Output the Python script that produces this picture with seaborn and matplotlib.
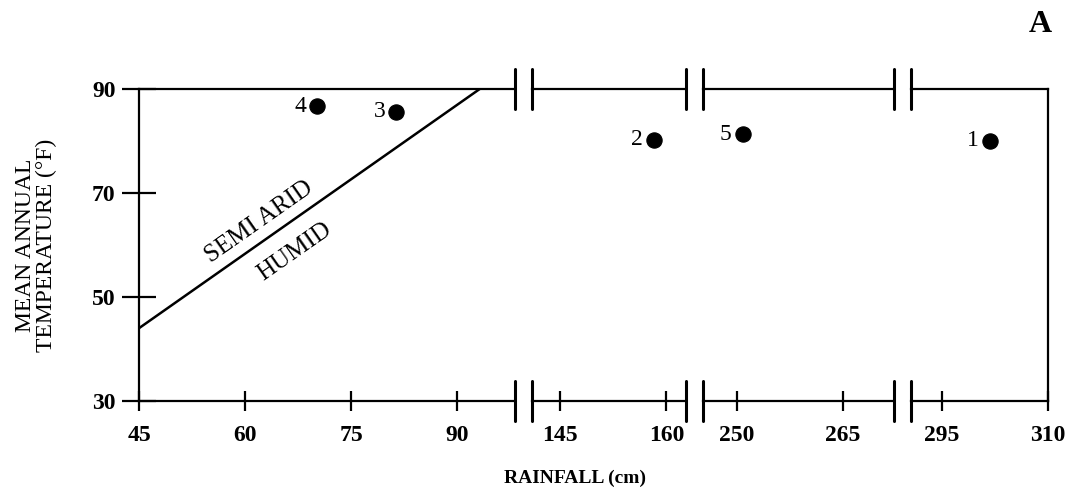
import matplotlib
matplotlib.use("Agg")
import matplotlib.pyplot as plt
import seaborn as sns
import pandas as pd

# sites: rainfall (cm) against mean annual temperature (F)
site_labels = ["1", "2", "3", "4", "5"]
rainfall = [301.8, 158.3, 81.4, 70.2, 250.8]
temperature = [80.0, 80.2, 85.6, 86.7, 81.3]

# semi arid / humid boundary line
boundary_rain = [45, 93.2]
boundary_temp = [44, 90]

# broken x axis: visible rainfall ranges and their ticks
segments = [(45, 98.2), (141, 162.8), (245.2, 272.2), (290.6, 310)]
segment_ticks = [[45, 60, 75, 90], [145, 160], [250, 265], [295, 310]]
y_ticks = [30, 50, 70, 90]

sites = pd.DataFrame({"label": site_labels, "rainfall": rainfall,
                      "temperature": temperature})

sns.set_theme(style="ticks")
plt.rcParams["font.family"] = ["Liberation Serif", "DejaVu Serif"]
plt.rcParams["text.color"] = "black"

fig, axes = plt.subplots(
    1, 4, sharey=True, figsize=(10.9, 4.95), dpi=100,
    gridspec_kw=dict(width_ratios=[hi - lo for lo, hi in segments], wspace=0.079))
fig.subplots_adjust(left=139 / 1090, right=1048 / 1090,
                    bottom=1 - 401 / 495, top=1 - 89 / 495)

for i, ax in enumerate(axes):
    lo, hi = segments[i]
    sub = sites[(sites.rainfall >= lo) & (sites.rainfall <= hi)]
    sns.scatterplot(data=sub, x="rainfall", y="temperature", ax=ax,
                    color="black", edgecolor="black", s=120, legend=False)
    for _, row in sub.iterrows():
        ax.annotate(row.label, (row.rainfall, row.temperature),
                    xytext=(-8, 0), textcoords="offset points",
                    ha="right", va="center", fontsize=17, color="black")

    ax.set_xlim(lo, hi)
    ax.set_ylim(30, 90)
    ax.set_xticks(segment_ticks[i])
    ax.set_xlabel("")
    ax.set_ylabel("")
    for side in ["top", "bottom", "left", "right"]:
        ax.spines[side].set_color("black")
        ax.spines[side].set_linewidth(1.6)
    ax.spines["left"].set_visible(i == 0)
    ax.spines["right"].set_visible(i == len(axes) - 1)
    ax.tick_params(axis="x", direction="inout", length=14, width=1.6,
                   color="black", labelsize=17, pad=10, labelcolor="black")
    plt.setp(ax.get_xticklabels(), fontweight="bold")
    if i == 0:
        ax.set_yticks(y_ticks)
        ax.tick_params(axis="y", direction="inout", length=24, width=1.6,
                       color="black", labelsize=17, pad=5, labelcolor="black")
        plt.setp(ax.get_yticklabels(), fontweight="bold")
    else:
        ax.tick_params(axis="y", left=False)

    # break marks
    if i > 0:
        for y0 in (0, 1):
            ax.plot([0, 0], [y0 - 0.064, y0 + 0.064], transform=ax.transAxes,
                    color="black", lw=2.2, clip_on=False)
    if i < len(axes) - 1:
        for y0 in (0, 1):
            ax.plot([1, 1], [y0 - 0.064, y0 + 0.064], transform=ax.transAxes,
                    color="black", lw=2.2, clip_on=False)

sns.lineplot(x=boundary_rain, y=boundary_temp, ax=axes[0], color="black", lw=1.8)
axes[0].set_xlabel("")
axes[0].set_ylabel("")
axes[0].text(62.0, 64.5, "SEMI ARID", rotation=35, rotation_mode="anchor",
             ha="center", va="center", fontsize=18, color="black")
axes[0].text(67.0, 58.8, "HUMID", rotation=35, rotation_mode="anchor",
             ha="center", va="center", fontsize=18, color="black")

fig.text(36 / 1090, 1 - 245 / 495, "MEAN ANNUAL\nTEMPERATURE (°F)", rotation=90,
         ha="center", va="center", multialignment="center", fontsize=17,
         linespacing=1.05, color="black")
fig.text(575 / 1090, 1 - 478 / 495, "RAINFALL (cm)", ha="center", va="center",
         fontsize=14, fontweight="bold", color="black")
fig.text(1040 / 1090, 1 - 25 / 495, "A", ha="center", va="center",
         fontsize=23, fontweight="bold", color="black")

fig.savefig("out.png", dpi=100)
